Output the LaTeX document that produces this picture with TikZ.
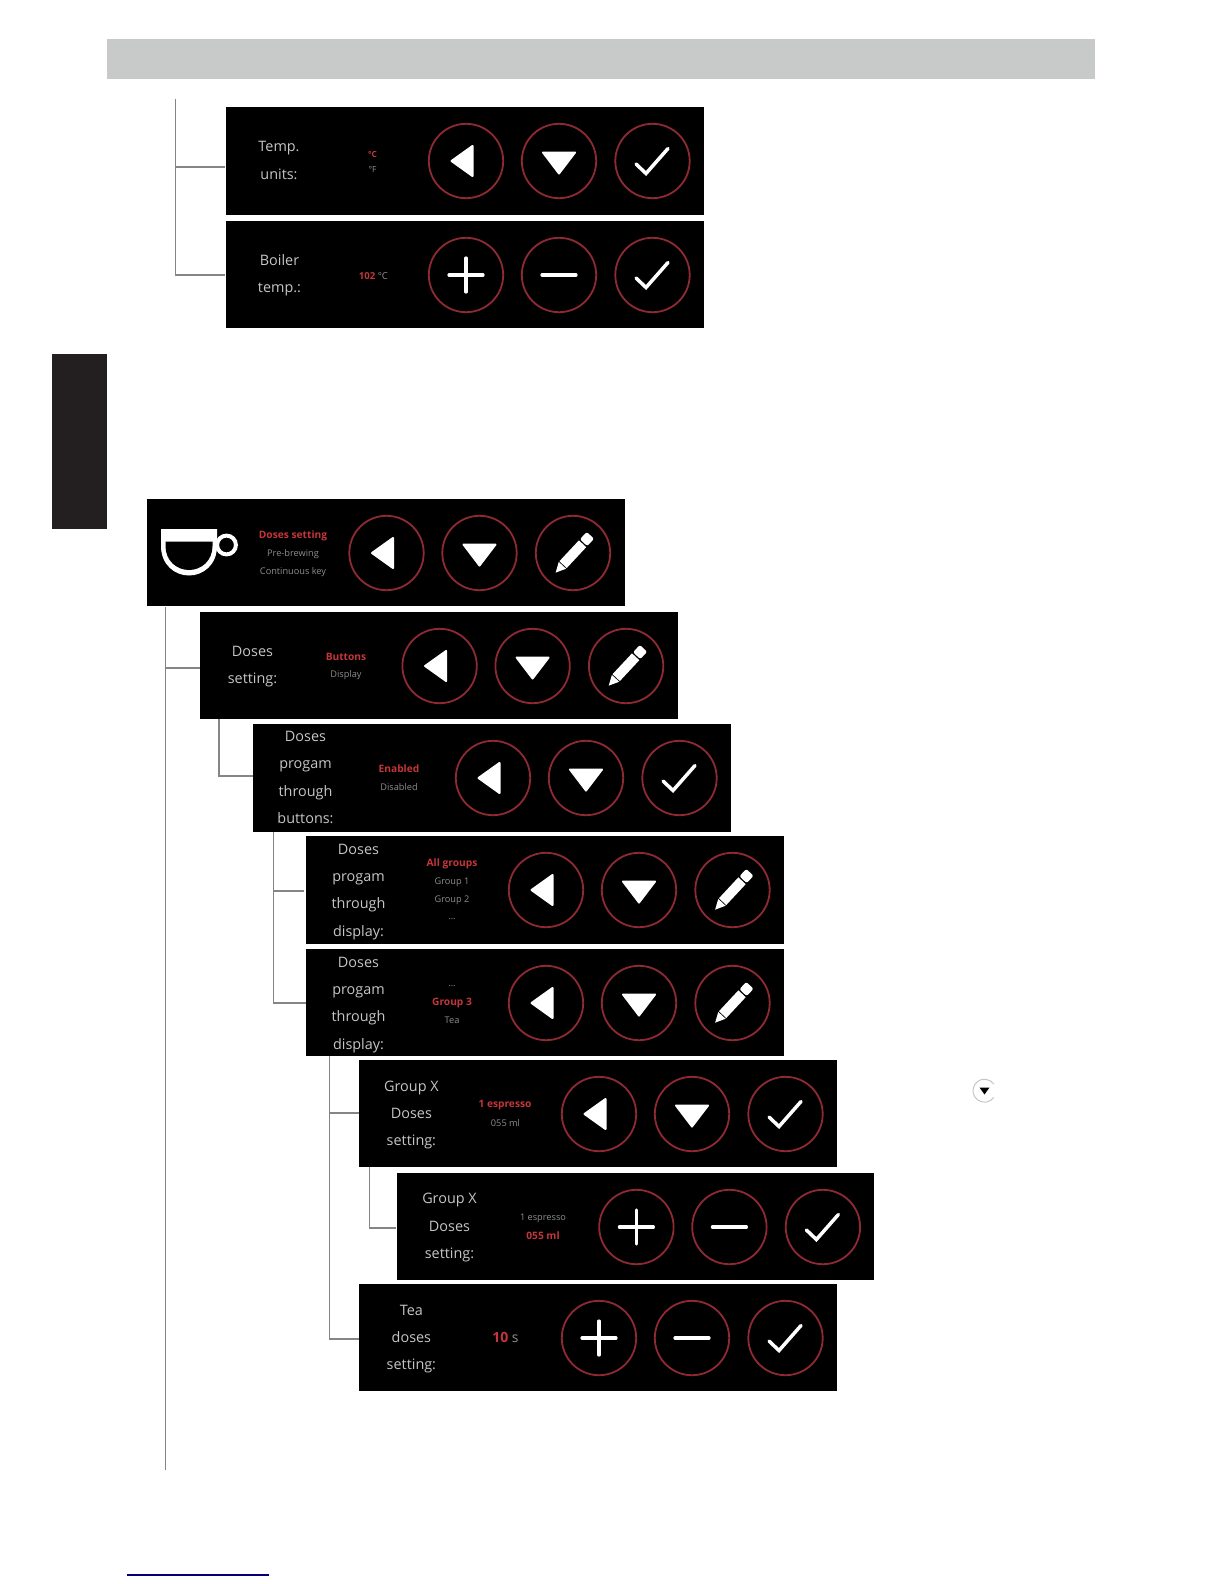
\documentclass[tikz,border=0pt]{standalone}
\usepackage{fontspec}
\setmainfont{Open Sans}
\definecolor{ringred}{HTML}{8F2A33}
\definecolor{optred}{HTML}{C4363C}
\definecolor{lbltxt}{HTML}{C6C6C6}
\definecolor{opttxt}{HTML}{8E8E8E}
\definecolor{barg}{HTML}{C8CACA}
\definecolor{tabk}{HTML}{231F20}
\definecolor{linkg}{HTML}{858585}
\tikzset{
 panelbox/.style={fill=black,draw=none,anchor=north west,inner sep=0pt,minimum width=238.8pt},
 btn/.style={circle,draw=ringred,line width=0.9pt,minimum size=37.2pt,inner sep=0pt},
 lbl/.style={text=lbltxt,align=center,inner sep=0pt,font=\fontsize{7.2}{13.55}\selectfont},
 optoff/.style={text=opttxt,inner sep=0pt,yshift=-0.5pt,font=\fontsize{4.6}{5}\selectfont},
 opton/.style={text=optred,inner sep=0pt,yshift=-0.5pt,font=\fontsize{5.1}{5}\selectfont\bfseries},
 conn/.style={draw=linkg,line width=0.55pt},
 glyphfill/.style={fill=white,draw=white,line width=1pt,line join=round},
 glyphline/.style={draw=white,line width=1.6pt,line cap=round},
 glyphcheck/.style={draw=white,line width=1.75pt,line join=miter,line cap=round}
}
\newcommand{\gleft}{\path[glyphfill] (-14.5,0) -- (6.5,-15) -- (6.5,15) -- cycle;}
\newcommand{\gdown}{\path[glyphfill] (-16,-8.5) -- (16,-8.5) -- (0,12.5) -- cycle;}
\newcommand{\gcheck}{\path[glyphcheck] (-16.5,3) -- (-6.5,12.5) -- (15.5,-12.5);}
\newcommand{\gplus}{\path[glyphline] (-17,0) -- (17,0) (0,-17) -- (0,17);}
\newcommand{\gminus}{\path[glyphline] (-17,0) -- (17,0);}
\newcommand{\gpencil}{%
 \begin{scope}[shift={(0,1)},rotate=47]
  \fill[white] (-25.5,0) -- (-15.5,-5) -- (-15.5,5) -- cycle;
  \fill[white] (-14.5,-5) -- (14,-5) -- (14,5) -- (-14.5,5) -- cycle;
  \fill[white,rounded corners=1pt] (15.5,-5) -- (25.5,-5) -- (25.5,5) -- (15.5,5) -- cycle;
 \end{scope}
}
% name, x, y, height(px), glyph 1, glyph 2, glyph 3
\newcommand{\hmi}[7]{%
 \begin{scope}[shift={(#2,#3)}]
  \node[panelbox,minimum height=#4*0.5pt] (#1) at (0,0) {};
  \node[btn] (#1a) at (240,54) {};
  \node[btn] (#1b) at (333,54) {};
  \node[btn] (#1c) at (426.5,54) {};
  \begin{scope}[shift={(240,54)}]#5\end{scope}
  \begin{scope}[shift={(333,54)}]#6\end{scope}
  \begin{scope}[shift={(426.5,54)}]#7\end{scope}
 \end{scope}}
\begin{document}
\begin{tikzpicture}[x=0.5pt,y=-0.5pt]
\useasboundingbox (0,0) rectangle (1224,1584);
% page furniture
\fill[barg] (107,39) rectangle (1095,79);
\fill[tabk] (51.5,354) rectangle (107,529);
\draw[draw=blue!45!black,line width=0.6pt] (127,1575) -- (269,1575);

% panels
\hmi{Pa}{226}{107}{108}{\gleft}{\gdown}{\gcheck}
\hmi{Pb}{226}{221}{107}{\gplus}{\gminus}{\gcheck}
\hmi{Pc}{146.5}{499}{107}{\gleft}{\gdown}{\gpencil}
\hmi{Pd}{199.6}{612}{107}{\gleft}{\gdown}{\gpencil}
\hmi{Pe}{253}{724}{108}{\gleft}{\gdown}{\gcheck}
\hmi{Pf}{306}{836}{108}{\gleft}{\gdown}{\gpencil}
\hmi{Pg}{306}{949}{107}{\gleft}{\gdown}{\gpencil}
\hmi{Ph}{359}{1060}{107}{\gleft}{\gdown}{\gcheck}
\hmi{Pi}{396.4}{1173}{107}{\gplus}{\gminus}{\gcheck}
\hmi{Pj}{359}{1284}{107}{\gplus}{\gminus}{\gcheck}

% cup
\fill[white] (161,529) -- (217,529) -- (217,546) .. controls (217,565) and (203,575.5) .. (189,575.5) .. controls (175,575.5) and (161,565) .. (161,546) -- cycle;
\fill[black] (165.5,541.5) -- (212.5,541.5) -- (212.5,546) .. controls (212.5,561) and (201,570) .. (189,570) .. controls (177,570) and (165.5,561) .. (165.5,546) -- cycle;
\draw[white,line width=2pt] (226.5,545) circle (9.4);

% left labels
\node[lbl] (La) at (279,160.5) {Temp.\\units:};
\node[lbl] (Lb) at (279.5,275.5) {Boiler\\temp.:};
\node[lbl] (Ld) at (252.5,666.5) {Doses\\setting:};
\node[lbl] (Le) at (305.5,777.5) {Doses\\progam\\through\\buttons:};
\node[lbl] (Lf) at (358.5,892) {Doses\\progam\\through\\display:};
\node[lbl] (Lg) at (358.5,1005) {Doses\\progam\\through\\display:};
\node[lbl] (Lh) at (411.4,1115) {Group X\\Doses\\setting:};
\node[lbl] (Li) at (449.5,1227.5) {Group X\\Doses\\setting:};
\node[lbl] (Lj) at (411.4,1339) {Tea\\doses\\setting:};

% option texts
\node[opton,font=\fontsize{4.2}{5}\selectfont\bfseries] (Oa1) at (372.5,153.5) {°C};
\node[optoff,font=\fontsize{4.2}{5}\selectfont] (Oa2) at (372.5,168.5) {°F};
\node[inner sep=0pt,yshift=-0.5pt] (Ob) at (373.5,274.7) {\fontsize{4.8}{5}\selectfont\textcolor{optred}{\bfseries 102} \textcolor{opttxt}{°C}};
\node[opton] (Oc1) at (293,534.7) {Doses setting};
\node[optoff] (Oc2) at (293,552.7) {Pre-brewing};
\node[optoff] (Oc3) at (293,570.8) {Continuous key};
\node[opton] (Od1) at (346,656) {Buttons};
\node[optoff] (Od2) at (346,674.5) {Display};
\node[opton] (Oe1) at (399,767.7) {Enabled};
\node[optoff] (Oe2) at (399,786.2) {Disabled};
\node[opton] (Of1) at (452,863) {All groups};
\node[optoff] (Of2) at (452,881) {Group 1};
\node[optoff] (Of3) at (452,899) {Group 2};
\node[optoff] (Of4) at (452,918) {...};
\node[optoff] (Og1) at (452,985) {...};
\node[opton] (Og2) at (452,1002) {Group 3};
\node[optoff] (Og3) at (452,1019.5) {Tea};
\node[opton] (Oh1) at (505,1104.3) {1 espresso};
\node[optoff] (Oh2) at (505.5,1122.3) {055 ml};
\node[optoff] (Oi1) at (543,1217.7) {1 espresso};
\node[opton] (Oi2) at (543,1234.5) {055 ml};
\node[inner sep=0pt] (Oj) at (505.5,1337.3) {\fontsize{7}{8}\selectfont\textcolor{optred}{\bfseries 10} \textcolor{opttxt}{s}};

% connectors
\coordinate (ta) at (175.5,99);
\coordinate (ja) at (225,167);
\coordinate (jb) at (225,275);
\draw[conn] (ta) |- (ja);
\draw[conn] (ta) |- (jb);
\coordinate (tb) at (165.3,1470);
\coordinate (jc) at (199.6,668);
\draw[conn] (tb) -- (tb |- Pc.south);
\draw[conn] (tb |- jc) -- (jc);
\coordinate (tc) at (219,719);
\coordinate (jd) at (253,776);
\draw[conn] (tc) |- (jd);
\coordinate (td) at (273.8,832);
\coordinate (je) at (304,891);
\coordinate (jf) at (306,1003);
\draw[conn] (td) |- (je);
\draw[conn] (td) |- (jf);
\coordinate (te) at (329.4,1056);
\coordinate (jg) at (359,1113);
\coordinate (jh) at (359,1339);
\draw[conn] (te) |- (jg);
\draw[conn] (te) |- (jh);
\coordinate (tf) at (369.3,1167);
\coordinate (ji) at (396.4,1228);
\draw[conn] (tf) |- (ji);

% margin key
\node[draw=none,inner sep=0pt,minimum size=0pt] (kk) at (984.5,1090.7) {};
\draw[draw=lbltxt,line width=0.5pt] (kk) ++(35:11.5) arc[start angle=35,end angle=325,radius=11.5];
\fill[black] (979.5,1087.5) -- (989.5,1087.5) -- (984.5,1094.5) -- cycle;
\end{tikzpicture}
\end{document}
